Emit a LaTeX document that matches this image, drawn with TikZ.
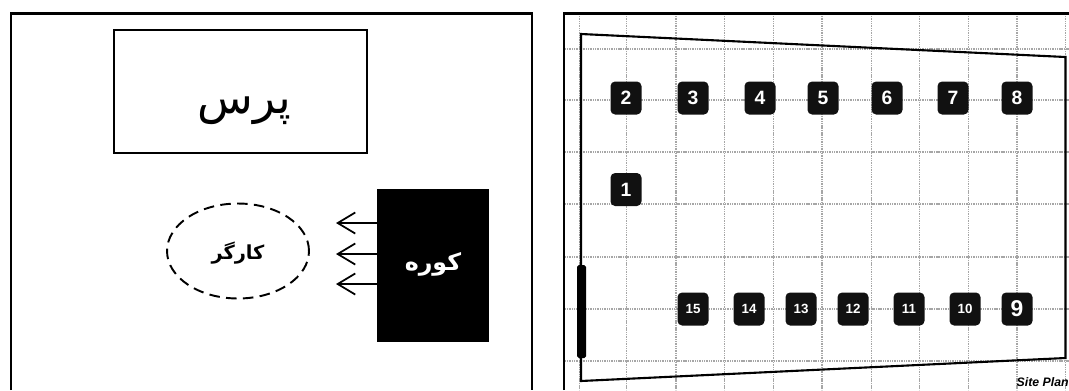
\documentclass[tikz,border=0pt]{standalone}
\usepackage{fontspec}
\setmainfont{Liberation Sans}
\newfontfamily\arabicfont[Script=Arabic]{DejaVu Sans}
\TeXXeTstate=1
\usetikzlibrary{positioning, shapes.geometric, arrows.meta, calc}
\definecolor{gridgray}{HTML}{A6A6A6}
\definecolor{plotblack}{HTML}{111111}
\tikzset{
    panel/.style={line width=1.7pt, draw=black},
    gridline/.style={draw=gridgray, line width=0.8pt, dash pattern=on 0.6pt off 0.4pt},
    plotnum/.style={fill=plotblack, rounded corners=2.6pt, text=white, minimum width=0.62cm,
          minimum height=0.66cm, inner sep=0pt, font=\bfseries\fontsize{11}{11}\selectfont},
    plotsmall/.style={plotnum, font=\bfseries\fontsize{7.6}{7.6}\selectfont},
    heatarrow/.style={-{Straight Barb[length=10pt,width=12pt,line width=1pt]}, line width=1pt}
}
\begin{document}
\begin{tikzpicture}[x=0.02cm, y=-0.02cm]
    \useasboundingbox (0,0) rectangle (1069,390);
    \draw[panel] (11,390) -- (11,13) -- (532,13) -- (532,390);
    \node[draw, line width=1.5pt, minimum width=5.06cm, minimum height=2.46cm, inner sep=0pt,
          font=\arabicfont\fontsize{26}{26}\selectfont] (press) at (240.5,91.5)
          {\hspace{4.5pt}\raisebox{-12.5pt}[0pt][0pt]{\beginR پرس\endR}};
    \node[fill=black, text=white, minimum width=2.23cm, minimum height=3.06cm, inner sep=0pt,
          font=\arabicfont\bfseries\fontsize{13.5}{14}\selectfont] (kiln) at (433,265.5)
          {\raisebox{-3pt}[0pt][0pt]{\beginR کوره\endR}};
    \node[draw, ellipse, line width=1.1pt, dash pattern=on 6pt off 3.6pt, minimum width=2.84cm,
          minimum height=1.9cm, inner sep=0pt,
          font=\arabicfont\bfseries\fontsize{11}{11}\selectfont] (worker) at (238,251)
          {\raisebox{-5pt}[0pt][0pt]{\beginR کارگر\endR}};
    \coordinate (heat1) at (336,223);
    \coordinate (heat2) at (336,254);
    \coordinate (heat3) at (336,284);
    \draw[heatarrow] (kiln.west |- heat1) -- (heat1);
    \draw[heatarrow] (kiln.west |- heat2) -- (heat2);
    \draw[heatarrow] (kiln.west |- heat3) -- (heat3);
    \foreach \xpos in {579.3,626.7,676,724.3,773.3,822,871.3,919.3,968.3,1017,1065.7}
        \draw[gridline] (\xpos,14) -- (\xpos,390);
    \foreach \ypos in {49,100,152,204,257,309,361}
        \draw[gridline] (565,\ypos) -- (1069,\ypos);
    \draw[panel] (564,390) -- (564,13) -- (1069,13);
    \draw[line width=1.2pt] (581,34) -- (1065.5,57) -- (1065.5,358) -- (581,381) -- cycle;
    \fill[black, rounded corners=1pt] (577,265) rectangle (586,358);
    \foreach \num/\xpos in {2/626,3/693,4/760,5/823,6/887,7/953,8/1017}
        \node[plotnum] (n\num) at (\xpos,98) {\num};
    \node[plotnum] (n1) at (626,189.5) {1};
    \foreach \num/\xpos in {15/693,14/749,13/801,12/853,11/909,10/965}
        \node[plotsmall] (n\num) at (\xpos,309) {\num};
    \node[plotnum, font=\bfseries\fontsize{13}{13}\selectfont] (n9) at (1017,309) {9};
    \node[anchor=east, inner sep=0pt, font=\bfseries\itshape\fontsize{7}{7}\selectfont] (siteplan) at (1069,382) {Site Plan};
\end{tikzpicture}
\end{document}
